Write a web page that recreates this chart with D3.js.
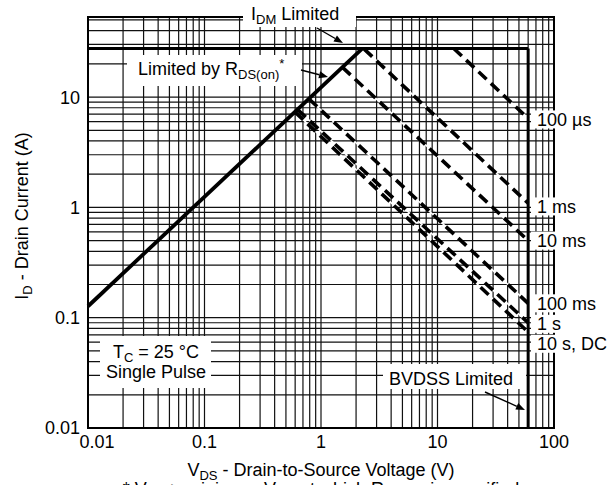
<!DOCTYPE html>
<html><head><meta charset="utf-8">
<script src="https://cdn.jsdelivr.net/npm/d3@7"></script>
<style>body{margin:0;background:#fff}svg{display:block}text{font-family:"Liberation Sans",Arial,Helvetica,sans-serif;fill:#000}</style>
</head><body>
<svg id="c" width="608" height="485"></svg>
<script>
// ---- data ----
const xTicks = [0.01, 0.1, 1, 10, 100];
const xTickLabels = ["0.01", "0.1", "1", "10", "100"];
const yTicks = [0.01, 0.1, 1, 10];
const yTickLabels = ["0.01", "0.1", "1", "10"];
const rdsLimit = [[0.01, 0.127], [2.27, 27.6]];
const idmLimit = [[0.01, 27.6], [60, 27.6]];
const bvdssLimit = [[60, 27.6], [60, 0.01]];
const pulseNames = ["100 µs", "1 ms", "10 ms", "100 ms", "1 s", "10 s, DC"];
const pulseStart = [[13.8, 27.6], [2.35, 27.2], [1.53, 18.6], [0.79, 9.6], [0.63, 7.7], [0.60, 7.3]];
const pulseEnd = [[60, 6.4], [60, 1.09], [60, 0.5], [60, 0.135], [60, 0.09], [60, 0.074]];
const pulseLabelAt = [6.27, 1.02, 0.50, 0.135, 0.088, 0.058];

// ---- layout ----
const svg = d3.select("#c");
const L = 88, R = 554, T = 17, B = 428;
const x = d3.scaleLog().domain([0.01, 100]).range([L, R]);
const y = d3.scaleLog().domain([0.01, 53.2]).range([B, T]);
const line = d3.line().x(d => x(d[0])).y(d => y(d[1]));

// grid
const g = svg.append("g");
g.selectAll(".vg").data(x.ticks()).join("line")
  .attr("x1", d => x(d)).attr("x2", d => x(d)).attr("y1", T).attr("y2", B)
  .attr("stroke", "#111").attr("stroke-width", 1.2);
g.selectAll(".hg").data(y.ticks().filter(v => v <= 53)).join("line")
  .attr("y1", d => y(d)).attr("y2", d => y(d)).attr("x1", L).attr("x2", R)
  .attr("stroke", "#111").attr("stroke-width", 1.2);
svg.append("rect").attr("x", L).attr("y", T).attr("width", R - L).attr("height", B - T)
  .attr("fill", "none").attr("stroke", "#000").attr("stroke-width", 2);

// white boxes for annotations
function box(x0, y0, x1, y1) {
  svg.append("rect").attr("x", x0).attr("y", y0).attr("width", x1 - x0).attr("height", y1 - y0).attr("fill", "#fff");
}
box(243, 0, 356, 27);
box(127, 55, 302, 86);
box(100, 336, 211, 388);
box(383, 364, 526, 389);

// pulse lines
pulseNames.forEach((n, i) => {
  const pts = [pulseStart[i], pulseEnd[i]];
  svg.append("path").attr("d", line(pts)).attr("fill", "none").attr("stroke", "#fff").attr("stroke-width", 1.6);
  svg.append("path").attr("d", line(pts)).attr("fill", "none").attr("stroke", "#000")
    .attr("stroke-width", 3.6).attr("stroke-dasharray", "11,6");
});

// limit lines
svg.append("path").attr("d", line(idmLimit)).attr("fill", "none").attr("stroke", "#000").attr("stroke-width", 3);
svg.append("path").attr("d", line(bvdssLimit)).attr("fill", "none").attr("stroke", "#000").attr("stroke-width", 3);
svg.append("path").attr("d", line(rdsLimit)).attr("fill", "none").attr("stroke", "#000").attr("stroke-width", 3.8);

// pulse labels
pulseNames.forEach((n, i) => {
  const yy = y(pulseLabelAt[i]);
  const t = svg.append("text").attr("x", 537).attr("y", yy).attr("dy", "0.36em").attr("font-size", 18).text(n);
  const w = t.node().getComputedTextLength();
  svg.insert("rect", "text").attr("x", 531).attr("y", yy - 9).attr("width", w + 9).attr("height", 18).attr("fill", "#fff");
});

// axes labels
svg.selectAll(".xt").data(xTicks).join("text")
  .attr("x", (d, i) => x(d) + (i === 0 ? 9 : 0)).attr("y", 448).attr("text-anchor", "middle")
  .attr("font-size", 18).text((d, i) => xTickLabels[i]);
svg.selectAll(".yt").data(yTicks).join("text")
  .attr("x", 80).attr("y", d => y(d)).attr("dy", "0.36em").attr("text-anchor", "end")
  .attr("font-size", 18).text((d, i) => yTickLabels[i]);

function rich(parent, parts) {
  parts.forEach(p => {
    const ts = parent.append("tspan").text(p[0]);
    if (p[1] === "sub") ts.attr("font-size", 13).attr("baseline-shift", "-4");
    else if (p[1] === "sup") ts.attr("font-size", 13).attr("baseline-shift", "7");
  });
}
const xt = svg.append("text").attr("x", 321).attr("y", 476).attr("text-anchor", "middle").attr("font-size", 18);
rich(xt, [["V"], ["DS", "sub"], [" - Drain-to-Source Voltage (V)"]]);
const yt = svg.append("text").attr("transform", "translate(28,216) rotate(-90)").attr("text-anchor", "middle").attr("font-size", 18);
rich(yt, [["I"], ["D", "sub"], [" - Drain Current (A)"]]);
const fn = svg.append("text").attr("x", 321).attr("y", 495).attr("text-anchor", "middle").attr("font-size", 18);
rich(fn, [["* V"], ["GS", "sub"], [" > minimum V"], ["GS", "sub"], [" at which R"], ["DS(on)", "sub"], [" is specified"]]);

const t1 = svg.append("text").attr("x", 251).attr("y", 20).attr("font-size", 18);
rich(t1, [["I"], ["DM", "sub"], [" Limited"]]);
const t2 = svg.append("text").attr("x", 138).attr("y", 75).attr("font-size", 18);
rich(t2, [["Limited by R"], ["DS(on)", "sub"], ["*", "sup"]]);
const t3 = svg.append("text").attr("x", 156).attr("y", 358).attr("text-anchor", "middle").attr("font-size", 18);
rich(t3, [["T"], ["C", "sub"], [" = 25 °C"]]);
svg.append("text").attr("x", 156).attr("y", 378).attr("text-anchor", "middle").attr("font-size", 18).text("Single Pulse");
svg.append("text").attr("x", 389).attr("y", 385).attr("font-size", 18).text("BVDSS Limited");

// arrows
function arrow(x0, y0, x1, y1) {
  const a = Math.atan2(y1 - y0, x1 - x0), hl = 9, hw = 3.5;
  const bx = x1 - hl * Math.cos(a), by = y1 - hl * Math.sin(a);
  svg.append("line").attr("x1", x0).attr("y1", y0).attr("x2", bx).attr("y2", by).attr("stroke", "#000").attr("stroke-width", 1.4);
  svg.append("path").attr("d", `M${x1},${y1}L${bx - hw * Math.sin(a)},${by + hw * Math.cos(a)}L${bx + hw * Math.sin(a)},${by - hw * Math.cos(a)}Z`).attr("fill", "#000");
}
arrow(317, 28, 343, 43);
arrow(301, 70, 328, 77);
arrow(485, 392, 525, 410);
</script>
</body></html>
